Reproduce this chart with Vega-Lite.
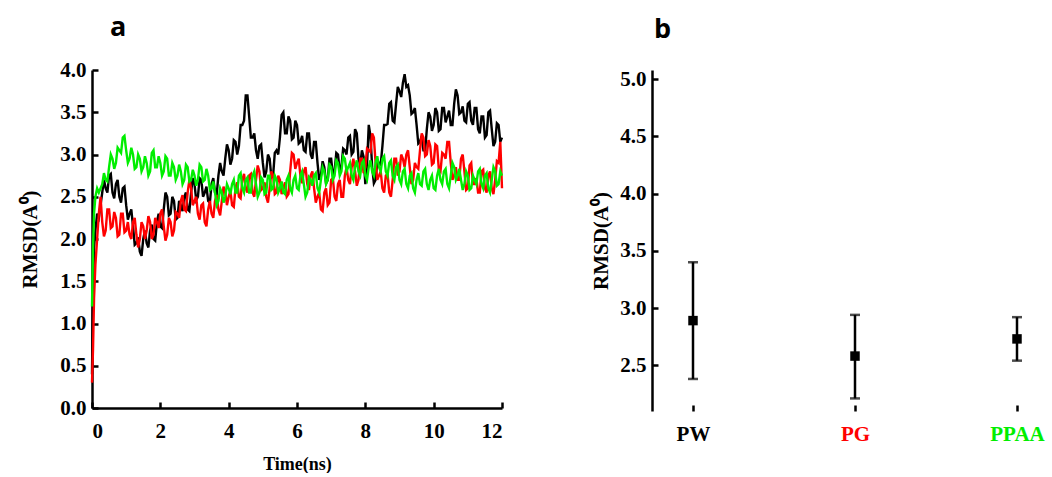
{
  "$schema": "https://vega.github.io/schema/vega-lite/v6.json",
  "background": "white",
  "padding": {"left": 19, "top": 14, "right": 0, "bottom": 0},
  "bounds": "flush",
  "spacing": 150,
  "config": {
    "view": {"stroke": null},
    "font": "Liberation Serif",
    "axis": {
      "grid": false,
      "domainColor": "black",
      "domainWidth": 2.5,
      "tickColor": "black",
      "tickWidth": 2.5,
      "tickSize": -6,
      "labelFont": "Liberation Serif",
      "labelFontWeight": "bold",
      "labelFontSize": 21,
      "labelColor": "black",
      "titleFont": "Liberation Serif",
      "titleFontWeight": "bold",
      "titleFontSize": 21,
      "titleColor": "black"
    },
    "title": {"font": "Open Sans", "fontWeight": "bold", "fontSize": 27, "color": "black", "anchor": "start", "frame": "group", "baseline": "alphabetic"}
  },
  "datasets": {
    "pw": [
      {"t":0,"v":0.4},{"t":0.03,"v":1.4},{"t":0.06,"v":1.9},{"t":0.1,"v":2.1},{"t":0.15,"v":2.3},{"t":0.2,"v":2.25},{"t":0.3,"v":2.55},{"t":0.4,"v":2.6},{"t":0.5,"v":2.75},{"t":0.6,"v":2.55},{"t":0.7,"v":2.65},{"t":0.8,"v":2.5},{"t":0.9,"v":2.6},
      {"t":1.0,"v":2.4},{"t":1.1,"v":2.3},{"t":1.2,"v":2.15},{"t":1.3,"v":1.95},{"t":1.4,"v":1.85},{"t":1.5,"v":2.0},{"t":1.6,"v":1.95},{"t":1.7,"v":2.1},{"t":1.8,"v":2.0},{"t":1.9,"v":2.2},
      {"t":2.0,"v":2.15},{"t":2.1,"v":2.35},{"t":2.2,"v":2.5},{"t":2.3,"v":2.3},{"t":2.4,"v":2.45},{"t":2.5,"v":2.25},{"t":2.6,"v":2.4},{"t":2.7,"v":2.5},{"t":2.8,"v":2.35},{"t":2.9,"v":2.55},
      {"t":3.0,"v":2.65},{"t":3.1,"v":2.5},{"t":3.2,"v":2.7},{"t":3.3,"v":2.55},{"t":3.4,"v":2.45},{"t":3.5,"v":2.65},{"t":3.6,"v":2.55},{"t":3.7,"v":2.75},{"t":3.8,"v":2.8},{"t":3.9,"v":2.95},
      {"t":4.0,"v":3.05},{"t":4.1,"v":2.95},{"t":4.2,"v":3.15},{"t":4.3,"v":3.1},{"t":4.4,"v":3.35},{"t":4.5,"v":3.7},{"t":4.6,"v":3.45},{"t":4.7,"v":3.2},{"t":4.8,"v":3.05},{"t":4.9,"v":3.1},
      {"t":5.0,"v":2.9},{"t":5.1,"v":2.8},{"t":5.2,"v":2.95},{"t":5.3,"v":2.75},{"t":5.4,"v":3.05},{"t":5.5,"v":3.2},{"t":5.6,"v":3.5},{"t":5.7,"v":3.25},{"t":5.8,"v":3.4},{"t":5.9,"v":3.2},
      {"t":6.0,"v":3.35},{"t":6.1,"v":3.15},{"t":6.2,"v":3.05},{"t":6.3,"v":3.25},{"t":6.4,"v":3.0},{"t":6.5,"v":3.15},{"t":6.6,"v":2.9},{"t":6.7,"v":2.75},{"t":6.8,"v":2.85},{"t":6.9,"v":2.7},
      {"t":7.0,"v":2.95},{"t":7.1,"v":2.8},{"t":7.2,"v":3.0},{"t":7.3,"v":2.85},{"t":7.4,"v":3.05},{"t":7.5,"v":3.2},{"t":7.6,"v":3.0},{"t":7.7,"v":3.3},{"t":7.8,"v":2.95},{"t":7.9,"v":3.05},
      {"t":8.0,"v":2.65},{"t":8.1,"v":3.35},{"t":8.2,"v":2.85},{"t":8.3,"v":2.7},{"t":8.4,"v":2.9},{"t":8.5,"v":3.1},{"t":8.6,"v":3.35},{"t":8.7,"v":3.6},{"t":8.8,"v":3.4},{"t":8.9,"v":3.6},
      {"t":9.0,"v":3.75},{"t":9.1,"v":3.85},{"t":9.15,"v":3.95},{"t":9.2,"v":3.8},{"t":9.3,"v":3.7},{"t":9.4,"v":3.5},{"t":9.5,"v":3.35},{"t":9.6,"v":3.15},{"t":9.7,"v":3.05},{"t":9.8,"v":3.3},{"t":9.9,"v":3.45},
      {"t":10.0,"v":3.35},{"t":10.1,"v":3.5},{"t":10.2,"v":3.3},{"t":10.3,"v":3.55},{"t":10.4,"v":3.45},{"t":10.5,"v":3.35},{"t":10.6,"v":3.6},{"t":10.7,"v":3.7},{"t":10.8,"v":3.5},{"t":10.9,"v":3.4},
      {"t":11.0,"v":3.6},{"t":11.1,"v":3.4},{"t":11.2,"v":3.55},{"t":11.3,"v":3.3},{"t":11.4,"v":3.45},{"t":11.5,"v":3.2},{"t":11.6,"v":3.5},{"t":11.7,"v":3.3},{"t":11.8,"v":3.15},{"t":11.9,"v":3.35},{"t":12.0,"v":3.2},
      {"t":0.35,"v":2.7},{"t":0.45,"v":2.55},{"t":0.55,"v":2.77},{"t":0.65,"v":2.48},{"t":0.75,"v":2.7},{"t":0.85,"v":2.43},{"t":0.95,"v":2.62},{"t":1.05,"v":2.23},{"t":1.15,"v":2.35},{"t":1.25,"v":1.93},
      {"t":1.35,"v":2.02},{"t":1.45,"v":1.8},{"t":1.55,"v":2.1},{"t":1.65,"v":1.9},{"t":1.75,"v":2.17},{"t":1.85,"v":1.98},{"t":1.95,"v":2.3},{"t":2.05,"v":2.13},{"t":2.15,"v":2.55},{"t":2.25,"v":2.28},
      {"t":2.35,"v":2.5},{"t":2.45,"v":2.23},{"t":2.55,"v":2.45},{"t":2.65,"v":2.33},{"t":2.75,"v":2.55},{"t":2.85,"v":2.33},{"t":2.95,"v":2.72},{"t":3.05,"v":2.46},{"t":3.15,"v":2.72},{"t":3.25,"v":2.5},
      {"t":3.35,"v":2.62},{"t":3.45,"v":2.43},{"t":3.55,"v":2.72},{"t":3.65,"v":2.53},{"t":3.75,"v":2.9},{"t":3.85,"v":2.75},{"t":3.95,"v":3.12},{"t":4.05,"v":2.88},{"t":4.15,"v":3.17},{"t":4.25,"v":3.0},
      {"t":4.35,"v":3.35},{"t":4.45,"v":3.4},{"t":4.55,"v":3.7},{"t":4.65,"v":3.2},{"t":4.75,"v":3.25},{"t":4.85,"v":2.95},{"t":4.95,"v":3.12},{"t":5.05,"v":2.73},{"t":5.15,"v":3.0},{"t":5.25,"v":2.73},
      {"t":5.35,"v":3.02},{"t":5.45,"v":3.0},{"t":5.55,"v":3.47},{"t":5.65,"v":3.25},{"t":5.75,"v":3.45},{"t":5.85,"v":3.18},{"t":5.95,"v":3.4},{"t":6.05,"v":3.13},{"t":6.15,"v":3.22},{"t":6.25,"v":3.03},
      {"t":6.35,"v":3.25},{"t":6.45,"v":2.95},{"t":6.55,"v":3.15},{"t":6.65,"v":2.7},{"t":6.75,"v":2.92},{"t":6.85,"v":2.66},{"t":6.95,"v":2.95},{"t":7.05,"v":2.76},{"t":7.15,"v":3.02},{"t":7.25,"v":2.8},
      {"t":7.35,"v":3.07},{"t":7.45,"v":3.0},{"t":7.55,"v":3.22},{"t":7.65,"v":3.03},{"t":7.75,"v":3.25},{"t":7.85,"v":2.88},{"t":7.95,"v":2.97},{"t":8.05,"v":2.88},{"t":8.15,"v":3.22},{"t":8.25,"v":2.66},
      {"t":8.35,"v":2.92},{"t":8.45,"v":2.88},{"t":8.55,"v":3.35},{"t":8.65,"v":3.36},{"t":8.75,"v":3.62},{"t":8.85,"v":3.38},{"t":8.95,"v":3.8},{"t":9.05,"v":3.68},{"t":9.25,"v":3.82},{"t":9.35,"v":3.48},
      {"t":9.45,"v":3.55},{"t":9.55,"v":3.13},{"t":9.65,"v":3.22},{"t":9.75,"v":3.05},{"t":9.85,"v":3.5},{"t":9.95,"v":3.28},{"t":10.05,"v":3.55},{"t":10.15,"v":3.28},{"t":10.25,"v":3.55},{"t":10.35,"v":3.38},
      {"t":10.45,"v":3.52},{"t":10.55,"v":3.35},{"t":10.65,"v":3.77},{"t":10.75,"v":3.48},{"t":10.85,"v":3.57},{"t":10.95,"v":3.38},{"t":11.05,"v":3.62},{"t":11.15,"v":3.35},{"t":11.25,"v":3.55},{"t":11.35,"v":3.25},
      {"t":11.45,"v":3.45},{"t":11.55,"v":3.23},{"t":11.65,"v":3.52},{"t":11.75,"v":3.1},{"t":11.85,"v":3.37},{"t":11.95,"v":3.15}
    ],
    "pg": [
      {"t":0,"v":0.3},{"t":0.03,"v":0.7},{"t":0.06,"v":1.3},{"t":0.1,"v":1.7},{"t":0.15,"v":2.0},{"t":0.2,"v":2.3},{"t":0.25,"v":2.5},{"t":0.3,"v":2.2},{"t":0.4,"v":2.1},{"t":0.5,"v":2.35},{"t":0.6,"v":2.15},{"t":0.7,"v":2.25},{"t":0.8,"v":2.05},{"t":0.9,"v":2.3},
      {"t":1.0,"v":2.1},{"t":1.1,"v":2.05},{"t":1.2,"v":2.2},{"t":1.3,"v":2.05},{"t":1.4,"v":2.0},{"t":1.5,"v":2.15},{"t":1.6,"v":2.1},{"t":1.7,"v":2.2},{"t":1.8,"v":2.05},{"t":1.9,"v":2.2},
      {"t":2.0,"v":2.3},{"t":2.1,"v":2.15},{"t":2.2,"v":2.05},{"t":2.3,"v":2.2},{"t":2.4,"v":2.1},{"t":2.5,"v":2.3},{"t":2.6,"v":2.45},{"t":2.7,"v":2.35},{"t":2.8,"v":2.55},{"t":2.9,"v":2.6},
      {"t":3.0,"v":2.45},{"t":3.1,"v":2.3},{"t":3.2,"v":2.4},{"t":3.3,"v":2.2},{"t":3.4,"v":2.35},{"t":3.5,"v":2.3},{"t":3.6,"v":2.45},{"t":3.7,"v":2.35},{"t":3.8,"v":2.45},{"t":3.9,"v":2.55},
      {"t":4.0,"v":2.5},{"t":4.1,"v":2.4},{"t":4.2,"v":2.6},{"t":4.3,"v":2.5},{"t":4.4,"v":2.7},{"t":4.5,"v":2.6},{"t":4.6,"v":2.75},{"t":4.7,"v":2.55},{"t":4.8,"v":2.7},{"t":4.9,"v":2.8},
      {"t":5.0,"v":2.6},{"t":5.1,"v":2.5},{"t":5.2,"v":2.6},{"t":5.3,"v":2.75},{"t":5.4,"v":2.55},{"t":5.5,"v":2.7},{"t":5.6,"v":2.6},{"t":5.7,"v":2.5},{"t":5.8,"v":2.8},{"t":5.9,"v":3.0},
      {"t":6.0,"v":2.9},{"t":6.1,"v":2.75},{"t":6.2,"v":2.8},{"t":6.3,"v":2.65},{"t":6.4,"v":2.75},{"t":6.5,"v":2.6},{"t":6.6,"v":2.5},{"t":6.7,"v":2.35},{"t":6.8,"v":2.55},{"t":6.9,"v":2.4},
      {"t":7.0,"v":2.7},{"t":7.1,"v":2.5},{"t":7.2,"v":2.65},{"t":7.3,"v":2.5},{"t":7.4,"v":2.75},{"t":7.5,"v":2.7},{"t":7.6,"v":2.85},{"t":7.7,"v":2.8},{"t":7.8,"v":2.7},{"t":7.9,"v":2.95},
      {"t":8.0,"v":2.85},{"t":8.1,"v":3.05},{"t":8.2,"v":3.25},{"t":8.3,"v":2.9},{"t":8.4,"v":2.75},{"t":8.5,"v":2.6},{"t":8.6,"v":2.75},{"t":8.7,"v":2.55},{"t":8.8,"v":2.7},{"t":8.9,"v":2.95},
      {"t":9.0,"v":2.8},{"t":9.1,"v":2.95},{"t":9.2,"v":3.0},{"t":9.3,"v":2.85},{"t":9.4,"v":2.7},{"t":9.5,"v":2.85},{"t":9.6,"v":3.05},{"t":9.7,"v":3.2},{"t":9.8,"v":3.0},{"t":9.9,"v":3.1},
      {"t":10.0,"v":2.9},{"t":10.1,"v":3.1},{"t":10.2,"v":2.8},{"t":10.3,"v":3.0},{"t":10.4,"v":3.15},{"t":10.5,"v":2.9},{"t":10.6,"v":2.75},{"t":10.7,"v":2.7},{"t":10.8,"v":2.95},{"t":10.9,"v":2.8},
      {"t":11.0,"v":2.6},{"t":11.1,"v":2.9},{"t":11.2,"v":2.65},{"t":11.3,"v":2.55},{"t":11.4,"v":2.8},{"t":11.5,"v":2.6},{"t":11.6,"v":2.75},{"t":11.7,"v":2.6},{"t":11.8,"v":2.7},{"t":11.9,"v":2.9},{"t":11.95,"v":3.15},{"t":12.0,"v":2.6},
      {"t":0.35,"v":2.03},{"t":0.45,"v":2.35},{"t":0.55,"v":2.13},{"t":0.65,"v":2.32},{"t":0.75,"v":2.03},{"t":0.85,"v":2.3},{"t":0.95,"v":2.08},{"t":1.05,"v":2.2},{"t":1.15,"v":2.0},{"t":1.25,"v":2.25},
      {"t":1.35,"v":1.9},{"t":1.45,"v":2.2},{"t":1.55,"v":2.0},{"t":1.65,"v":2.27},{"t":1.75,"v":2.0},{"t":1.85,"v":2.25},{"t":1.95,"v":2.13},{"t":2.05,"v":2.35},{"t":2.15,"v":1.98},{"t":2.25,"v":2.25},
      {"t":2.35,"v":2.03},{"t":2.45,"v":2.32},{"t":2.55,"v":2.25},{"t":2.65,"v":2.52},{"t":2.75,"v":2.33},{"t":2.85,"v":2.7},{"t":2.95,"v":2.4},{"t":3.05,"v":2.5},{"t":3.15,"v":2.23},{"t":3.25,"v":2.42},
      {"t":3.35,"v":2.15},{"t":3.45,"v":2.45},{"t":3.55,"v":2.25},{"t":3.65,"v":2.52},{"t":3.75,"v":2.28},{"t":3.85,"v":2.62},{"t":3.95,"v":2.4},{"t":4.05,"v":2.57},{"t":4.15,"v":2.38},{"t":4.25,"v":2.67},
      {"t":4.35,"v":2.48},{"t":4.45,"v":2.77},{"t":4.55,"v":2.55},{"t":4.65,"v":2.77},{"t":4.75,"v":2.5},{"t":4.85,"v":2.87},{"t":4.95,"v":2.58},{"t":5.05,"v":2.67},{"t":5.15,"v":2.43},{"t":5.25,"v":2.8},
      {"t":5.35,"v":2.53},{"t":5.45,"v":2.75},{"t":5.55,"v":2.53},{"t":5.65,"v":2.67},{"t":5.75,"v":2.53},{"t":5.85,"v":3.02},{"t":5.95,"v":2.83},{"t":6.05,"v":2.95},{"t":6.15,"v":2.66},{"t":6.25,"v":2.85},
      {"t":6.35,"v":2.58},{"t":6.45,"v":2.8},{"t":6.55,"v":2.43},{"t":6.65,"v":2.55},{"t":6.75,"v":2.33},{"t":6.85,"v":2.6},{"t":6.95,"v":2.43},{"t":7.05,"v":2.72},{"t":7.15,"v":2.45},{"t":7.25,"v":2.7},
      {"t":7.35,"v":2.5},{"t":7.45,"v":2.85},{"t":7.55,"v":2.65},{"t":7.65,"v":2.95},{"t":7.75,"v":2.63},{"t":7.85,"v":2.95},{"t":7.95,"v":2.78},{"t":8.05,"v":3.07},{"t":8.15,"v":3.03},{"t":8.25,"v":3.2},
      {"t":8.35,"v":2.7},{"t":8.45,"v":2.8},{"t":8.55,"v":2.55},{"t":8.65,"v":2.77},{"t":8.75,"v":2.5},{"t":8.85,"v":2.95},{"t":8.95,"v":2.75},{"t":9.05,"v":3.0},{"t":9.15,"v":2.85},{"t":9.25,"v":3.05},
      {"t":9.35,"v":2.65},{"t":9.45,"v":2.9},{"t":9.55,"v":2.83},{"t":9.65,"v":3.25},{"t":9.75,"v":2.98},{"t":9.85,"v":3.17},{"t":9.95,"v":2.88},{"t":10.05,"v":3.12},{"t":10.15,"v":2.83},{"t":10.25,"v":3.02},
      {"t":10.35,"v":2.95},{"t":10.45,"v":3.15},{"t":10.55,"v":2.7},{"t":10.65,"v":2.85},{"t":10.75,"v":2.7},{"t":10.85,"v":3.0},{"t":10.95,"v":2.58},{"t":11.05,"v":2.87},{"t":11.15,"v":2.65},{"t":11.25,"v":2.72},
      {"t":11.35,"v":2.55},{"t":11.45,"v":2.82},{"t":11.55,"v":2.55},{"t":11.65,"v":2.8},{"t":11.75,"v":2.53},{"t":11.85,"v":2.92}
    ],
    "ppaa": [
      {"t":0,"v":1.2},{"t":0.03,"v":1.9},{"t":0.06,"v":2.3},{"t":0.1,"v":2.5},{"t":0.15,"v":2.6},{"t":0.2,"v":2.55},{"t":0.3,"v":2.65},{"t":0.4,"v":2.7},{"t":0.5,"v":2.85},{"t":0.6,"v":2.95},{"t":0.7,"v":2.9},{"t":0.8,"v":3.05},{"t":0.9,"v":3.2},
      {"t":1.0,"v":3.05},{"t":1.1,"v":2.95},{"t":1.2,"v":3.0},{"t":1.3,"v":2.85},{"t":1.4,"v":2.95},{"t":1.5,"v":2.85},{"t":1.6,"v":2.9},{"t":1.7,"v":2.8},{"t":1.8,"v":3.05},{"t":1.9,"v":2.85},
      {"t":2.0,"v":2.9},{"t":2.1,"v":2.8},{"t":2.2,"v":2.95},{"t":2.3,"v":2.75},{"t":2.4,"v":2.85},{"t":2.5,"v":2.75},{"t":2.6,"v":2.8},{"t":2.7,"v":2.7},{"t":2.8,"v":2.85},{"t":2.9,"v":2.7},
      {"t":3.0,"v":2.75},{"t":3.1,"v":2.7},{"t":3.2,"v":2.85},{"t":3.3,"v":2.7},{"t":3.4,"v":2.75},{"t":3.5,"v":2.6},{"t":3.6,"v":2.55},{"t":3.7,"v":2.45},{"t":3.8,"v":2.55},{"t":3.9,"v":2.5},
      {"t":4.0,"v":2.6},{"t":4.1,"v":2.65},{"t":4.2,"v":2.55},{"t":4.3,"v":2.75},{"t":4.4,"v":2.6},{"t":4.5,"v":2.7},{"t":4.6,"v":2.55},{"t":4.7,"v":2.75},{"t":4.8,"v":2.65},{"t":4.9,"v":2.55},
      {"t":5.0,"v":2.7},{"t":5.1,"v":2.55},{"t":5.2,"v":2.75},{"t":5.3,"v":2.6},{"t":5.4,"v":2.7},{"t":5.5,"v":2.6},{"t":5.6,"v":2.55},{"t":5.7,"v":2.7},{"t":5.8,"v":2.6},{"t":5.9,"v":2.7},
      {"t":6.0,"v":2.6},{"t":6.1,"v":2.75},{"t":6.2,"v":2.65},{"t":6.3,"v":2.55},{"t":6.4,"v":2.7},{"t":6.5,"v":2.75},{"t":6.6,"v":2.6},{"t":6.7,"v":2.7},{"t":6.8,"v":2.8},{"t":6.9,"v":2.7},
      {"t":7.0,"v":2.85},{"t":7.1,"v":2.75},{"t":7.2,"v":2.9},{"t":7.3,"v":2.8},{"t":7.4,"v":2.95},{"t":7.5,"v":2.85},{"t":7.6,"v":2.75},{"t":7.7,"v":2.85},{"t":7.8,"v":2.8},{"t":7.9,"v":2.9},
      {"t":8.0,"v":2.75},{"t":8.1,"v":2.85},{"t":8.2,"v":2.8},{"t":8.3,"v":2.9},{"t":8.4,"v":2.85},{"t":8.5,"v":2.95},{"t":8.6,"v":2.8},{"t":8.7,"v":2.9},{"t":8.8,"v":2.75},{"t":8.9,"v":2.85},
      {"t":9.0,"v":2.7},{"t":9.1,"v":2.8},{"t":9.2,"v":2.65},{"t":9.3,"v":2.75},{"t":9.4,"v":2.6},{"t":9.5,"v":2.7},{"t":9.6,"v":2.65},{"t":9.7,"v":2.8},{"t":9.8,"v":2.65},{"t":9.9,"v":2.7},
      {"t":10.0,"v":2.6},{"t":10.1,"v":2.75},{"t":10.2,"v":2.7},{"t":10.3,"v":2.8},{"t":10.4,"v":2.65},{"t":10.5,"v":2.75},{"t":10.6,"v":2.85},{"t":10.7,"v":2.75},{"t":10.8,"v":2.7},{"t":10.9,"v":2.65},
      {"t":11.0,"v":2.75},{"t":11.1,"v":2.6},{"t":11.2,"v":2.7},{"t":11.3,"v":2.8},{"t":11.4,"v":2.65},{"t":11.5,"v":2.75},{"t":11.6,"v":2.6},{"t":11.7,"v":2.7},{"t":11.8,"v":2.8},{"t":11.9,"v":2.65},{"t":12.0,"v":2.75},
      {"t":0.35,"v":2.78},{"t":0.45,"v":2.68},{"t":0.55,"v":3.0},{"t":0.65,"v":2.83},{"t":0.75,"v":3.08},{"t":0.85,"v":3.02},{"t":0.95,"v":3.22},{"t":1.05,"v":2.9},{"t":1.15,"v":3.08},{"t":1.25,"v":2.83},
      {"t":1.35,"v":3.0},{"t":1.45,"v":2.8},{"t":1.55,"v":2.98},{"t":1.65,"v":2.75},{"t":1.75,"v":3.02},{"t":1.85,"v":2.85},{"t":1.95,"v":2.98},{"t":2.05,"v":2.75},{"t":2.15,"v":2.98},{"t":2.25,"v":2.75},
      {"t":2.35,"v":2.9},{"t":2.45,"v":2.7},{"t":2.55,"v":2.88},{"t":2.65,"v":2.65},{"t":2.75,"v":2.88},{"t":2.85,"v":2.68},{"t":2.95,"v":2.82},{"t":3.05,"v":2.63},{"t":3.15,"v":2.88},{"t":3.25,"v":2.68},
      {"t":3.35,"v":2.83},{"t":3.45,"v":2.58},{"t":3.55,"v":2.68},{"t":3.65,"v":2.4},{"t":3.75,"v":2.6},{"t":3.85,"v":2.43},{"t":3.95,"v":2.65},{"t":4.05,"v":2.53},{"t":4.15,"v":2.7},{"t":4.25,"v":2.55},
      {"t":4.35,"v":2.78},{"t":4.45,"v":2.55},{"t":4.55,"v":2.73},{"t":4.65,"v":2.55},{"t":4.75,"v":2.8},{"t":4.85,"v":2.5},{"t":4.95,"v":2.73},{"t":5.05,"v":2.53},{"t":5.15,"v":2.75},{"t":5.25,"v":2.58},
      {"t":5.35,"v":2.75},{"t":5.45,"v":2.55},{"t":5.55,"v":2.68},{"t":5.65,"v":2.53},{"t":5.75,"v":2.75},{"t":5.85,"v":2.55},{"t":5.95,"v":2.75},{"t":6.05,"v":2.58},{"t":6.15,"v":2.8},{"t":6.25,"v":2.5},
      {"t":6.35,"v":2.73},{"t":6.45,"v":2.63},{"t":6.55,"v":2.78},{"t":6.65,"v":2.55},{"t":6.75,"v":2.85},{"t":6.85,"v":2.65},{"t":6.95,"v":2.88},{"t":7.05,"v":2.7},{"t":7.15,"v":2.93},{"t":7.25,"v":2.75},
      {"t":7.35,"v":2.98},{"t":7.45,"v":2.8},{"t":7.55,"v":2.9},{"t":7.65,"v":2.7},{"t":7.75,"v":2.93},{"t":7.85,"v":2.75},{"t":7.95,"v":2.93},{"t":8.05,"v":2.7},{"t":8.15,"v":2.93},{"t":8.25,"v":2.75},
      {"t":8.35,"v":2.98},{"t":8.45,"v":2.8},{"t":8.55,"v":2.98},{"t":8.65,"v":2.75},{"t":8.75,"v":2.93},{"t":8.85,"v":2.7},{"t":8.95,"v":2.88},{"t":9.05,"v":2.65},{"t":9.15,"v":2.83},{"t":9.25,"v":2.6},
      {"t":9.35,"v":2.78},{"t":9.45,"v":2.55},{"t":9.55,"v":2.78},{"t":9.65,"v":2.63},{"t":9.75,"v":2.83},{"t":9.85,"v":2.58},{"t":9.95,"v":2.75},{"t":10.05,"v":2.58},{"t":10.15,"v":2.83},{"t":10.25,"v":2.65},
      {"t":10.35,"v":2.83},{"t":10.45,"v":2.6},{"t":10.55,"v":2.9},{"t":10.65,"v":2.7},{"t":10.75,"v":2.83},{"t":10.85,"v":2.58},{"t":10.95,"v":2.8},{"t":11.05,"v":2.58},{"t":11.15,"v":2.75},{"t":11.25,"v":2.65},
      {"t":11.35,"v":2.83},{"t":11.45,"v":2.6},{"t":11.55,"v":2.78},{"t":11.65,"v":2.55},{"t":11.75,"v":2.85},{"t":11.85,"v":2.63},{"t":11.95,"v":2.8}
    ],
    "summary": [
      {"g":"PW","m":2.89,"lo":2.38,"hi":3.40},
      {"g":"PG","m":2.58,"lo":2.21,"hi":2.94},
      {"g":"PPAA","m":2.73,"lo":2.54,"hi":2.92}
    ]
  },
  "hconcat": [
    {
      "width": 410,
      "height": 338,
      "title": {"text": "a", "dx": 18, "offset": 17},
      "encoding": {
        "x": {"field": "t", "type": "quantitative", "scale": {"domain": [0, 12], "nice": false},
              "axis": {"title": "Time(ns)", "values": [0,2,4,6,8,10,12], "labelPadding": 18, "labelFontSize": 21, "titlePadding": 14, "titleFontSize": 18}},
        "y": {"field": "v", "type": "quantitative", "scale": {"domain": [0, 4], "nice": false},
              "axis": {"title": "RMSD(A⁰)", "values": [0,0.5,1,1.5,2,2.5,3,3.5,4], "format": ".1f", "labelPadding": 12, "titlePadding": 19, "titleFontSize": 21}}
      },
      "layer": [
        {"data": {"name": "pw"}, "mark": {"type": "line", "color": "#000000", "strokeWidth": 2.4}},
        {"data": {"name": "pg"}, "mark": {"type": "line", "color": "#ff0000", "strokeWidth": 2.4}},
        {"data": {"name": "ppaa"}, "mark": {"type": "line", "color": "#00ee00", "strokeWidth": 2.4}}
      ]
    },
    {
      "width": 399,
      "height": 341,
      "title": {"text": "b", "dx": 2, "offset": 24},
      "data": {"name": "summary"},
      "encoding": {
        "x": {"field": "g", "type": "nominal", "sort": ["PW","PG","PPAA"],
              "scale": {"type": "point", "domain": ["PW","PG","PPAA"], "range": [41, 365], "padding": 0},
              "axis": {"title": null, "domain": false, "labelAngle": 0, "labelPadding": 18, "labelFontSize": 21,
                       "labelColor": {"condition": [{"test": "datum.value == 'PG'", "value": "#ff0000"}, {"test": "datum.value == 'PPAA'", "value": "#00ee00"}], "value": "#000000"}}}
      },
      "layer": [
        {
          "mark": {"type": "errorbar", "color": "black", "thickness": 2.5, "ticks": {"size": 10, "thickness": 2.5, "color": "black"}},
          "encoding": {
            "y": {"field": "lo", "type": "quantitative", "scale": {"domain": [2.1, 5.08], "nice": false, "zero": false},
                  "axis": {"title": "RMSD(A⁰)", "values": [2.5,3,3.5,4,4.5,5], "format": ".1f", "labelPadding": 12, "titlePadding": 8, "labelFontSize": 21, "titleFontSize": 21}},
            "y2": {"field": "hi"}
          }
        },
        {
          "mark": {"type": "point", "shape": "square", "filled": true, "size": 90, "color": "black", "opacity": 1},
          "encoding": {"y": {"field": "m", "type": "quantitative"}}
        },
        {
          "mark": {"type": "rule", "color": "black", "strokeWidth": 2.5},
          "encoding": {"y": {"datum": 2.1, "type": "quantitative"}}
        }
      ]
    }
  ]
}
